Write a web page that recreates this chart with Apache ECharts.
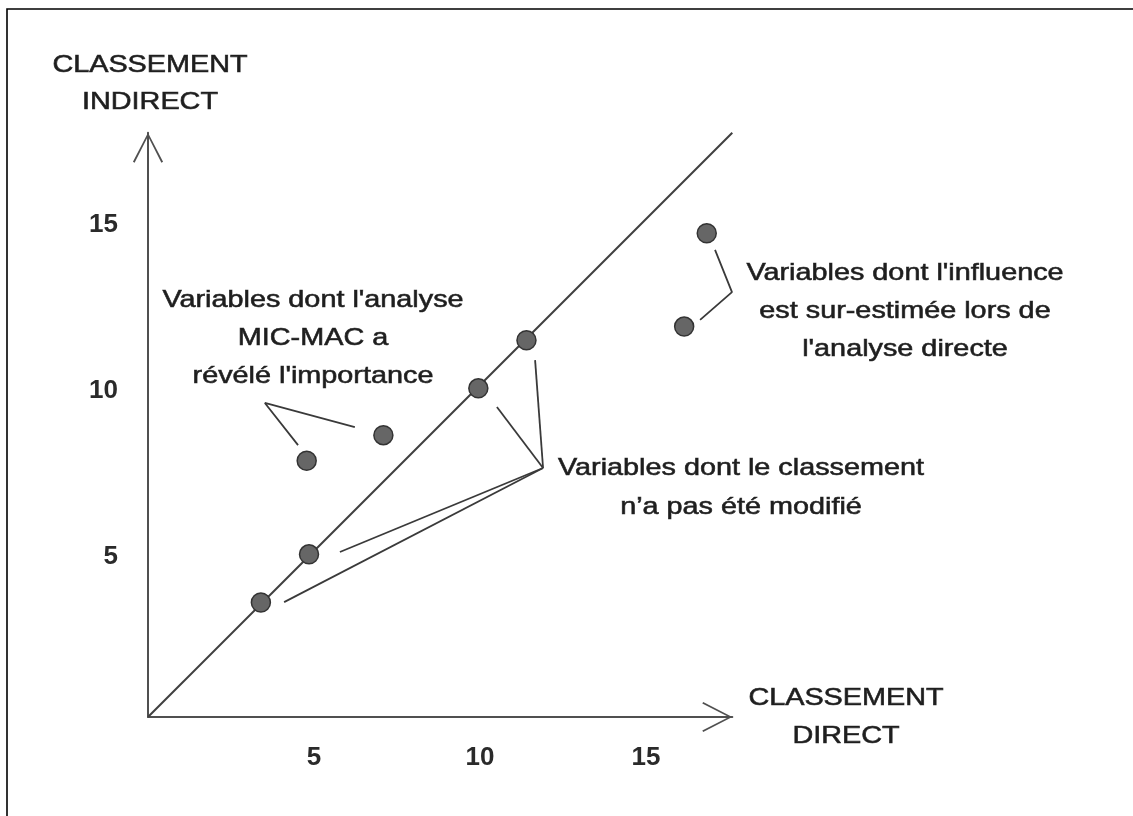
<!DOCTYPE html>
<html>
<head>
<meta charset="utf-8">
<script src="https://cdn.jsdelivr.net/npm/echarts@6/dist/echarts.min.js"></script>
<style>
  html, body { margin: 0; padding: 0; background: #fff; }
  #chart { width: 1133px; height: 816px; }
</style>
</head>
<body>
<div id="chart"></div>
<script>
// tick labels
const xTicks = [5, 10, 15];
const yTicks = [5, 10, 15];

// variables: [classement direct, classement indirect]
const unchangedVars = [[3.4, 3.45], [4.85, 4.9], [9.95, 9.9], [11.4, 11.35]];
const revealedVars = [[4.78, 7.72], [7.09, 8.49]];
const overestimatedVars = [[16.15, 11.76], [16.83, 14.57]];

// bisector y = x
const bisector = [[0, 0], [17.6, 17.6]];

// leader lines (data units)
const revealedLeader = [[4.52, 8.19], [3.52, 9.46], [6.23, 8.73]];
const overestLeader = [[17.08, 14.07], [17.59, 12.8], [16.63, 11.96]];
const unchangedHub = [11.9, 7.5];
const unchangedEnds = [[11.66, 10.75], [10.51, 9.34], [5.78, 4.97], [4.1, 3.46]];

const FONT = '"Liberation Sans", Arial, sans-serif';
const ARROW = 'path://M15.5,0 L31,30 L29.3,30.9 L15.5,3.6 L1.7,30.9 L0,30 Z';

const chart = echarts.init(document.getElementById('chart'));

function leaderSeries(pts) {
    return {
        type: 'line',
        data: pts,
        symbol: 'none',
        silent: true,
        clip: false,
        lineStyle: { color: '#3a3a3a', width: 1.8 },
        z: 3
    };
}

function note(text, x, y, lh) {
    return {
        type: 'text',
        x: x,
        y: y,
        scaleX: 1.2,
        z: 10,
        style: {
            text: text,
            fontFamily: FONT,
            fontSize: 24,
            lineHeight: lh,
            fill: '#1e1e1e',
            stroke: '#333',
            lineWidth: 0.6,
            textAlign: 'center',
            textVerticalAlign: 'middle',
            align: 'center',
            verticalAlign: 'middle'
        }
    };
}

const axisCommon = {
    type: 'value',
    min: 0,
    max: 17.6,
    interval: 5,
    splitLine: { show: false },
    axisTick: { show: false },
    axisLine: {
        show: true,
        symbol: ['none', ARROW],
        symbolSize: [31, 30],
        symbolOffset: [0, -15],
        lineStyle: { color: '#505050', width: 2 }
    }
};

const tickText = {
    fontFamily: FONT,
    fontSize: 26,
    fontWeight: 'bold',
    color: '#2a2a2a'
};

const series = [
    {
        type: 'line',
        data: bisector,
        symbol: 'none',
        silent: true,
        lineStyle: { color: '#404040', width: 2 },
        z: 2
    },
    leaderSeries(revealedLeader),
    leaderSeries(overestLeader)
];
unchangedEnds.forEach(function (p) {
    series.push(leaderSeries([unchangedHub, p]));
});
series.push({
    type: 'scatter',
    data: unchangedVars.concat(revealedVars, overestimatedVars),
    symbolSize: 19,
    itemStyle: { color: '#666', borderColor: '#333', borderWidth: 1.5, opacity: 1 },
    z: 5
});

chart.setOption({
    backgroundColor: '#fff',
    animation: false,
    grid: { left: 148, bottom: 99, width: 584.3, height: 584.3, containLabel: false },
    xAxis: Object.assign({}, axisCommon, {
        axisLabel: Object.assign({ customValues: xTicks, margin: 28 }, tickText)
    }),
    yAxis: Object.assign({}, axisCommon, {
        axisLabel: Object.assign({
            customValues: yTicks,
            margin: 30,
            formatter: '{v|{value}}',
            rich: { v: Object.assign({ padding: [12, 0, 0, 0] }, tickText) }
        }, tickText)
    }),
    series: series,
    graphic: [
        {
            type: 'polyline',
            silent: true,
            shape: { points: [[7, 900], [7, 9], [1200, 9]] },
            style: { stroke: '#000', lineWidth: 1.6, fill: null }
        },
        note('CLASSEMENT\nINDIRECT', 150, 84, 37),
        note('CLASSEMENT\nDIRECT', 846, 717, 38),
        note('Variables dont l\'analyse\nMIC-MAC a\nrévélé l\'importance', 313, 338, 38),
        note('Variables dont l\'influence\nest sur-estimée lors de\nl\'analyse directe', 905, 311, 38),
        note('Variables dont le classement\nn’a pas été modifié', 741, 488, 39)
    ]
});
</script>
</body>
</html>
